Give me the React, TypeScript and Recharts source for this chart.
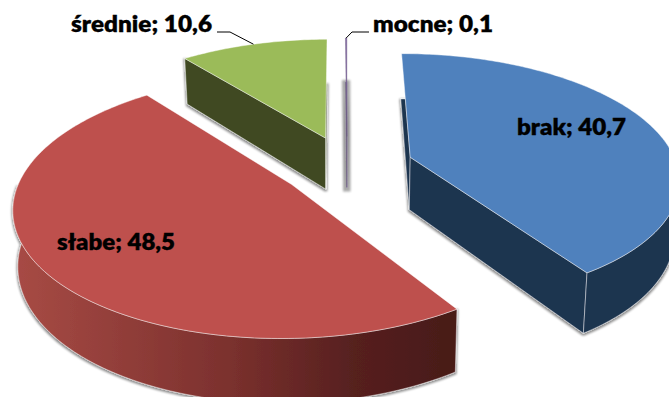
import React from 'react';
import { PieChart, Pie } from 'recharts';

const categories = ['brak', 'słabe', 'średnie', 'mocne'];
const values = [40.7, 48.5, 10.6, 0.1];
const topColors = ['#4F81BD', '#BE504D', '#9BBB59', '#8064A2'];
const sideColors = ['#1F3550', 'url(#sideRed)', '#3F4A21', '#8A8A8A'];
const edgeColors = ['#ffffff', '#ffffff', '#ffffff', '#6A5A80'];
const edgeOpacity = [0.55, 0.55, 0.55, 0.8];
const edgeWidths = [0.8, 0.8, 0.8, 0.5];
const shadowSpread = [1, 1, 1, 3];

const data = categories.map((name, i) => ({ name, value: values[i] }));

const TILT = 0.46;
const PERSPECTIVE = 0.16;
const EXPLODE = 0.25;
const DEPTH = 53;
const FONT = 'Lato, Carlito, Calibri, sans-serif';

type P = { x: number; y: number };
const rad = (d: number) => (d * Math.PI) / 180;

function projector(cx: number, cy: number, R: number, midAngle: number) {
  const eu = EXPLODE * Math.cos(rad(midAngle));
  const ev = EXPLODE * Math.sin(rad(midAngle));
  return (angle: number, r: number, lower: boolean): P => {
    const u = eu + r * Math.cos(rad(angle));
    const v = ev + r * Math.sin(rad(angle));
    const w = 1 + PERSPECTIVE * v;
    const dx = (R * u) / w;
    const y = cy - (R * TILT * v) / w;
    return lower ? { x: cx + dx * 0.985, y: y + DEPTH / w } : { x: cx + dx, y };
  };
}

const toPath = (pts: P[]) =>
  pts.map((p, i) => `${i ? 'L' : 'M'}${p.x.toFixed(2)} ${p.y.toFixed(2)}`).join('') + 'Z';

// A radial face shows when moving straight down leaves the top face across that edge.
function faceShows(apex: P, end: P, inner: P) {
  const ex = end.x - apex.x;
  const ey = end.y - apex.y;
  const toInner = ex * (inner.y - apex.y) - ey * (inner.x - apex.x);
  return ex * toInner <= 0;
}

// A face that runs almost straight up only starts where its far lower corner comes into view.
function facePoints(apexTop: P, apexBottom: P, end: P, endBottom: P): P[] {
  const ex = end.x - apexTop.x;
  const ey = end.y - apexTop.y;
  if (Math.abs(ex) < Math.abs(ey) * 0.25 && ey < 0) {
    const t = (endBottom.y - end.y) / -ey;
    const start = { x: end.x - ex * t, y: end.y - ey * t };
    return [apexTop, start, endBottom, apexBottom];
  }
  return [apexTop, end, endBottom, apexBottom];
}

function Wedge3D(props: any) {
  const { cx, cy, outerRadius, startAngle, endAngle, index } = props;
  const mid = (startAngle + endAngle) / 2;
  const at = projector(cx, cy, outerRadius, mid);
  const steps = Math.max(2, Math.ceil(Math.abs(endAngle - startAngle)));
  const angles = Array.from({ length: steps + 1 }, (_, i) => startAngle + ((endAngle - startAngle) * i) / steps);
  const arcTop = angles.map((a) => at(a, 1, false));
  const frontAngles = angles.filter((a) => Math.sin(rad(a)) < 0);
  const frontTop = frontAngles.map((a) => at(a, 1, false));
  const frontBottom = frontAngles.map((a) => at(a, 1, true));
  const apexTop = at(mid, 0, false);
  const apexBottom = at(mid, 0, true);
  const first = arcTop[0];
  const last = arcTop[arcTop.length - 1];
  const inner = at(mid, 1, false);
  const side = sideColors[index];
  const top = topColors[index];
  const edge = { stroke: edgeColors[index], strokeOpacity: edgeOpacity[index], strokeWidth: edgeWidths[index] };
  return (
    <g>
      <defs>
        <filter id={`shadow${index}`} filterUnits="userSpaceOnUse" x="-20" y="-20" width="720" height="440">
          <feMorphology in="SourceAlpha" operator="dilate" radius={shadowSpread[index]} result="grown" />
          <feGaussianBlur in="grown" stdDeviation="1" result="soft" />
          <feOffset in="soft" dx="0" dy="1" result="moved" />
          <feComponentTransfer in="moved" result="faded">
            <feFuncA type="linear" slope="0.45" />
          </feComponentTransfer>
          <feMerge>
            <feMergeNode in="faded" />
            <feMergeNode in="SourceGraphic" />
          </feMerge>
        </filter>
        <linearGradient id="sideRed" gradientUnits="userSpaceOnUse" x1="12" y1="0" x2="440" y2="0">
          <stop offset="0" stopColor="#A84B45" />
          <stop offset="0.5" stopColor="#7C312E" />
          <stop offset="0.8" stopColor="#56201F" />
          <stop offset="1" stopColor="#4A1A19" />
        </linearGradient>
      </defs>
      <g filter={`url(#shadow${index})`}>
        {faceShows(apexTop, first, inner) && (
          <path d={toPath(facePoints(apexTop, apexBottom, first, at(startAngle, 1, true)))} fill={side} {...edge} />
        )}
        {faceShows(apexTop, last, inner) && (
          <path d={toPath(facePoints(apexTop, apexBottom, last, at(endAngle, 1, true)))} fill={side} {...edge} />
        )}
        {frontTop.length > 1 && (
          <path d={toPath([...frontTop, ...frontBottom.slice().reverse()])} fill={side} {...edge} />
        )}
      </g>
      <path d={toPath([apexTop, ...arcTop])} fill={top} {...edge} />
    </g>
  );
}

const labelSpots: Record<string, { x: number; y: number; width: number; elbow?: P[] }> = {
  brak: { x: 517, y: 135, width: 109 },
  'słabe': { x: 57, y: 250, width: 118 },
  'średnie': { x: 71, y: 32, width: 141, elbow: [{ x: 217, y: 32 }, { x: 230, y: 32 }] },
  mocne: { x: 373, y: 32, width: 120, elbow: [{ x: 369, y: 32 }, { x: 352, y: 32 }] },
};

function SliceLabel(props: any) {
  const { cx, cy, outerRadius, midAngle, index } = props;
  const name = categories[index];
  const spot = labelSpots[name];
  if (!spot) return null;
  const anchor = projector(cx, cy, outerRadius, midAngle)(midAngle, 1, false);
  return (
    <g>
      {spot.elbow && (
        <polyline
          points={[...spot.elbow, anchor].map((p) => `${p.x},${p.y}`).join(' ')}
          fill="none"
          stroke="#000000"
          strokeWidth={1}
        />
      )}
      <text
        x={spot.x}
        y={spot.y}
        fill="#000000"
        stroke="#000000"
        strokeWidth={0.3}
        fontFamily={FONT}
        fontWeight={800}
        fontSize={22}
        textAnchor="start"
        textLength={spot.width}
        lengthAdjust="spacingAndGlyphs"
      >
        {`${name}; ${String(values[index]).replace('.', ',')}`}
      </text>
    </g>
  );
}

export default function App() {
  return (
    <div style={{ position: 'fixed', left: 0, top: 0, width: 669, height: 397, overflow: 'hidden', background: '#fff' }}>
      <PieChart width={669} height={397} margin={{ top: 0, right: 0, bottom: 0, left: 0 }}>
        <Pie
          data={data}
          dataKey="value"
          nameKey="name"
          cx={347}
          cy={166}
          innerRadius={0}
          outerRadius={267}
          startAngle={90}
          endAngle={-270}
          stroke="none"
          isAnimationActive={false}
          shape={Wedge3D}
          label={SliceLabel}
          labelLine={false}
        />
      </PieChart>
    </div>
  );
}
